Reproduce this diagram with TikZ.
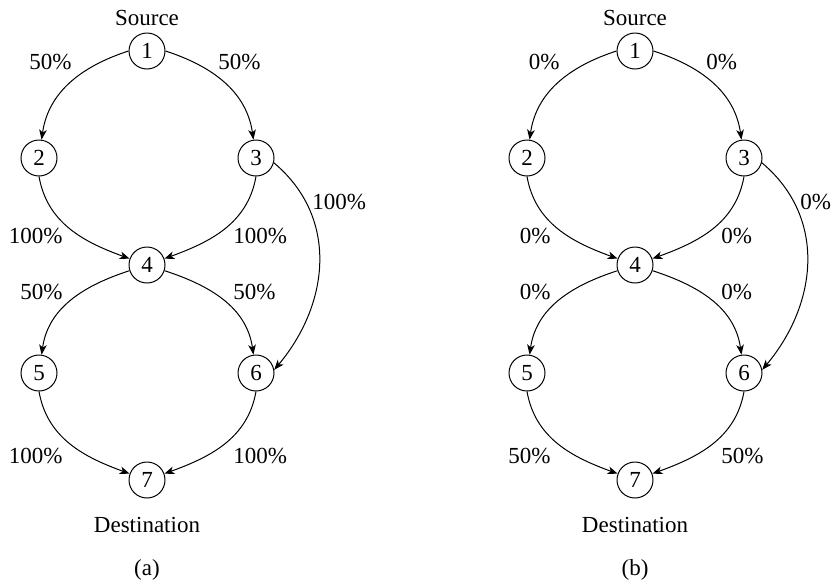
\documentclass[tikz,border=0pt]{standalone}
\usepackage{fontspec}
\setmainfont{Liberation Serif}
\usetikzlibrary{arrows.meta}
\begin{document}
\begin{tikzpicture}[x=0.5pt,y=0.5pt,
  every node/.style={font=\fontsize{11.5}{13}\selectfont},
  vtx/.style={circle, draw, line width=0.5pt, minimum size=18pt, inner sep=0pt},
  lblL/.style={inner sep=0pt, anchor=base east},
  lblR/.style={inner sep=0pt, anchor=base west},
  txt/.style={inner sep=0pt, anchor=base},
  arc/.style={-{Stealth[length=5pt,width=3.8pt,inset=1.4pt]}, line width=0.5pt}
]
\useasboundingbox (0,0) rectangle (833,-584);
% ---------- (a) ----------
\node[vtx] (a1) at (147,-51) {1};
\node[vtx] (a2) at (39,-158) {2};
\node[vtx] (a3) at (256,-158) {3};
\node[vtx] (a4) at (147,-265) {4};
\node[vtx] (a5) at (39,-373) {5};
\node[vtx] (a6) at (256,-373) {6};
\node[vtx] (a7) at (147,-480) {7};
\node[txt] (asrc) at (147,-25) {Source};
\node[txt] (adst) at (147,-532) {Destination};
\node[txt] (acap) at (147,-575) {(a)};
\node[lblL] (l12a) at (72,-69) {50\%};
\node[lblR] (l13a) at (218,-69) {50\%};
\node[lblL] (l24a) at (63,-243) {100\%};
\node[lblR] (l34a) at (233,-243) {100\%};
\node[lblL] (l45a) at (63,-299) {50\%};
\node[lblR] (l46a) at (233,-299) {50\%};
\node[lblL] (l57a) at (63,-463) {100\%};
\node[lblR] (l67a) at (233,-463) {100\%};
\node[lblR] (l36a) at (312,-209) {100\%};
\draw[arc] (a1.west) to[out=198,in=82] (a2);
\draw[arc] (a1.east) to[out=-18,in=98] (a3);
\draw[arc] (a2.south) to[out=-80,in=160] (a4);
\draw[arc] (a3.south) to[out=-100,in=20] (a4);
\draw[arc] (a4) to[out=198,in=82] (a5);
\draw[arc] (a4) to[out=-18,in=98] (a6);
\draw[arc] (a5.south) to[out=-80,in=160] (a7);
\draw[arc] (a6.south) to[out=-100,in=20] (a7);
\draw[arc] (a3.-15) to[out=-40,in=50,looseness=1.06] (a6.10);
% ---------- (b) ----------
\node[vtx] (b1) at (635,-51) {1};
\node[vtx] (b2) at (527,-158) {2};
\node[vtx] (b3) at (744,-158) {3};
\node[vtx] (b4) at (635,-265) {4};
\node[vtx] (b5) at (527,-373) {5};
\node[vtx] (b6) at (744,-373) {6};
\node[vtx] (b7) at (635,-480) {7};
\node[txt] (bsrc) at (635,-25) {Source};
\node[txt] (bdst) at (635,-532) {Destination};
\node[txt] (bcap) at (635,-575) {(b)};
\node[lblL] (l12b) at (560,-69) {0\%};
\node[lblR] (l13b) at (706,-69) {0\%};
\node[lblL] (l24b) at (551,-243) {0\%};
\node[lblR] (l34b) at (721,-243) {0\%};
\node[lblL] (l45b) at (551,-299) {0\%};
\node[lblR] (l46b) at (721,-299) {0\%};
\node[lblL] (l57b) at (551,-463) {50\%};
\node[lblR] (l67b) at (721,-463) {50\%};
\node[lblR] (l36b) at (800,-209) {0\%};
\draw[arc] (b1.west) to[out=198,in=82] (b2);
\draw[arc] (b1.east) to[out=-18,in=98] (b3);
\draw[arc] (b2.south) to[out=-80,in=160] (b4);
\draw[arc] (b3.south) to[out=-100,in=20] (b4);
\draw[arc] (b4) to[out=198,in=82] (b5);
\draw[arc] (b4) to[out=-18,in=98] (b6);
\draw[arc] (b5.south) to[out=-80,in=160] (b7);
\draw[arc] (b6.south) to[out=-100,in=20] (b7);
\draw[arc] (b3.-15) to[out=-40,in=50,looseness=1.06] (b6.10);
\end{tikzpicture}
\end{document}
